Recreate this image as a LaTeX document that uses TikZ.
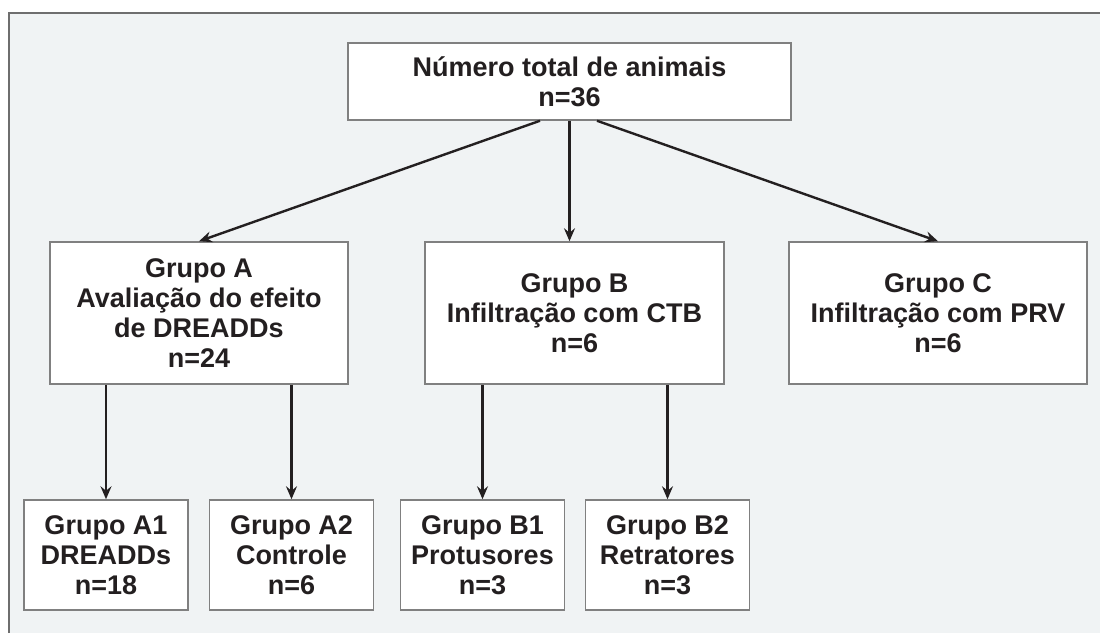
\documentclass[tikz,border=0pt]{standalone}
\usepackage{fontspec}
\setmainfont{Liberation Sans}
\usetikzlibrary{arrows.meta}
\definecolor{PanelGray}{HTML}{F0F3F4}
\definecolor{FrameGray}{HTML}{6E6E6E}
\definecolor{BoxGray}{HTML}{808080}
\definecolor{InkBlack}{HTML}{231F20}
\tikzstyle{group} = [draw=BoxGray, line width=1.5pt, fill=white, inner sep=0pt, align=center, text=InkBlack, font=\bfseries\fontsize{27}{30}\selectfont]
\tikzstyle{main} = [group, minimum width=298pt, minimum height=142pt]
\tikzstyle{sub} = [group, minimum width=164pt, minimum height=110pt]
\tikzstyle{flow} = [-{Stealth[length=13pt,width=11pt,inset=4.5pt]}, line width=2.4pt, draw=InkBlack]
\begin{document}
\begin{tikzpicture}[x=1pt,y=-1pt]

	\useasboundingbox (0,0) rectangle (1100,633);
	% panel
	\fill[PanelGray] (9,13) rectangle (1100,633);
	\draw[FrameGray, line width=2pt] (9,633) -- (9,13) -- (1100,13);

	% top box
	\node[group, minimum width=443pt, minimum height=77pt] (total) at (569.5,81.5)
		{N\'umero total de animais\\n=36};

	% groups
	\node[main] (grpA) at (199,313)
		{Grupo A\\Avalia\c{c}\~ao do efeito\\de DREADDs\\n=24};
	\node[main, minimum width=299pt] (grpB) at (574.5,313)
		{Grupo B\\Infiltra\c{c}\~ao com CTB\\n=6};
	\node[main] (grpC) at (938,313)
		{Grupo C\\Infiltra\c{c}\~ao com PRV\\n=6};

	% subgroups
	\node[sub] (subA1) at (106,555) {Grupo A1\\DREADDs\\n=18};
	\node[sub] (subA2) at (291.5,555) {Grupo A2\\Controle\\n=6};
	\node[sub] (subB1) at (482.5,555) {Grupo B1\\Protusores\\n=3};
	\node[sub] (subB2) at (667.5,555) {Grupo B2\\Retratores\\n=3};

	% arrows
	\draw[flow] ([xshift=-29.5pt]total.south) -- (grpA.north);
	\draw[flow] (total.south) -- (total.south |- grpB.north);
	\draw[flow] ([xshift=27.5pt]total.south) -- (grpC.north);
	\foreach \s/\g in {subA1/grpA,subA2/grpA,subB1/grpB,subB2/grpB}
		\draw[flow] (\g.south -| \s.north) -- (\s.north);

\end{tikzpicture}
\end{document}
